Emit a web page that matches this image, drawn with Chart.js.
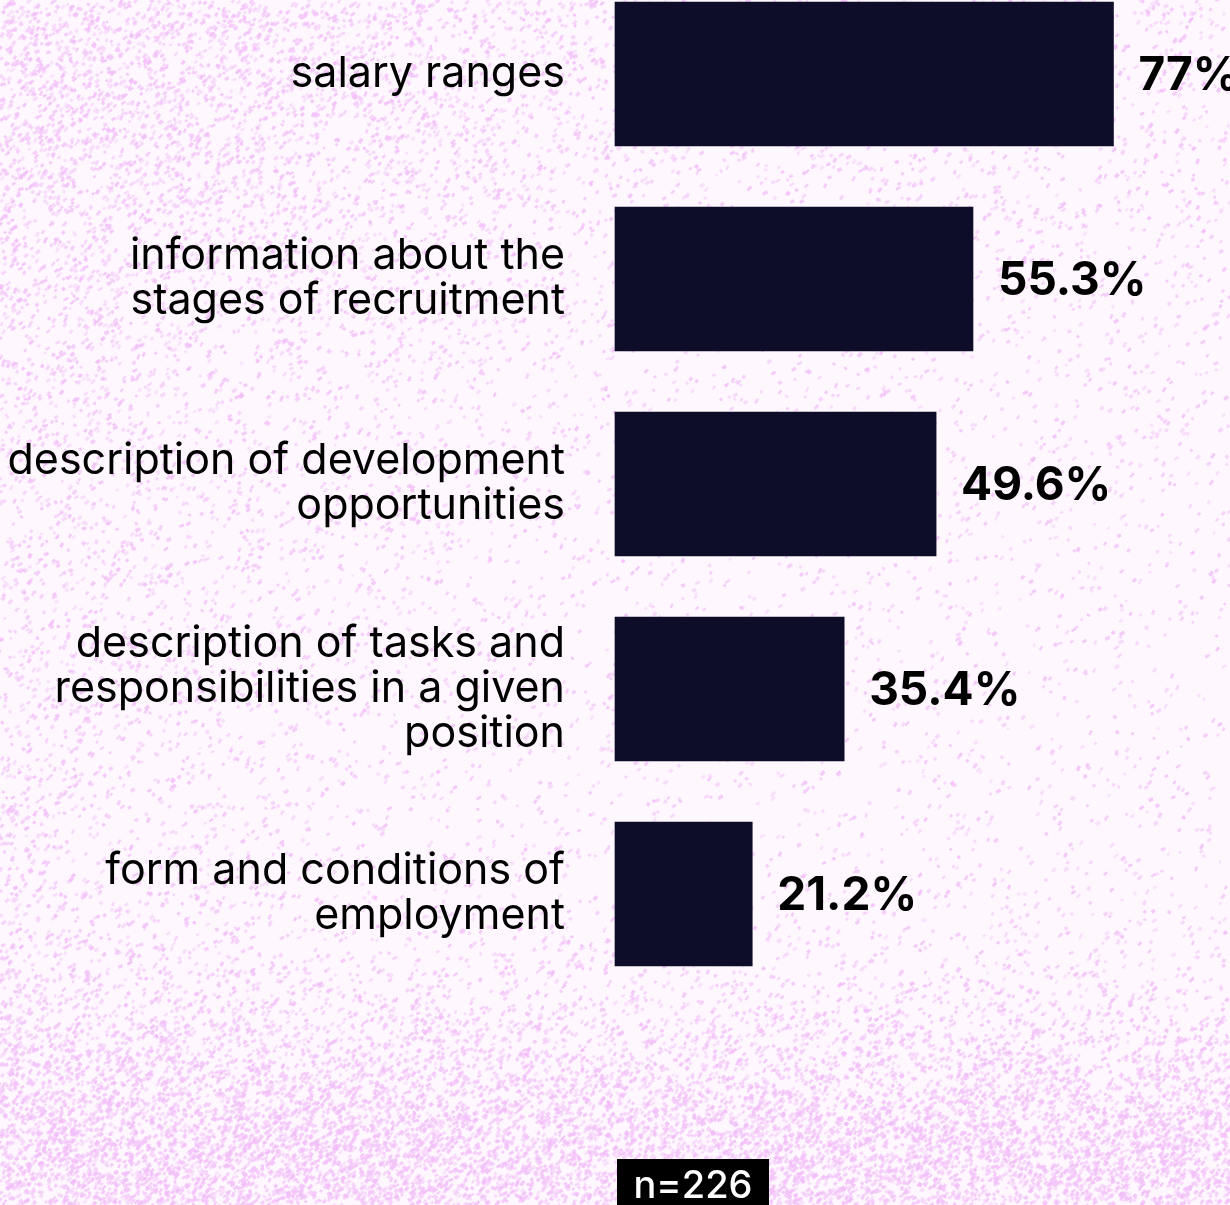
<!DOCTYPE html>
<html>
<head>
<meta charset="utf-8">
<script src="https://cdn.jsdelivr.net/npm/chart.js@4.4.1/dist/chart.umd.min.js"></script>
<style>
  html, body { margin: 0; padding: 0; background: #fdf5fd; }
  #wrap { position: relative; width: 1230px; height: 1205px; overflow: hidden; }
  canvas { display: block; }
</style>
</head>
<body>
<div id="wrap"><canvas id="chart" width="1230" height="1205"></canvas></div>
<script>
// Survey answers: what job offers should contain
const categories = [
  ['salary ranges'],
  ['information about the', 'stages of recruitment'],
  ['description of development', 'opportunities'],
  ['description of tasks and', 'responsibilities in a given', 'position'],
  ['form and conditions of', 'employment']
];
const shares = [77, 55.3, 49.6, 35.4, 21.2];
const valueLabels = ['77%', '55.3%', '49.6%', '35.4%', '21.2%'];
const sampleNote = 'n=226';

const FONT = "Inter, 'Open Sans', sans-serif";

// Speckled pink paper texture behind the chart (deterministic generator)
function seeded(seed) {
  let s = seed >>> 0;
  return function () {
    s = (s * 1664525 + 1013904223) >>> 0;
    return s / 4294967296;
  };
}
function speckDensity(x, y) {
  const bottom = Math.min(1, Math.max(0, (y - 880) / 260));
  const topLeft = 0.35 * Math.exp(-((x / 480) ** 2 + (y / 300) ** 2));
  const top = 0.15 * Math.exp(-y / 200);
  const left = 0.2 * Math.exp(-x / 220) * Math.min(1, y / 500);
  return Math.min(1, 0.06 + 0.9 * bottom * bottom + topLeft + top + left);
}
let paperCache = null;
function buildPaper(w, h) {
  const raw = document.createElement('canvas');
  raw.width = w; raw.height = h;
  const g = raw.getContext('2d');
  g.fillStyle = '#fef7fe';
  g.fillRect(0, 0, w, h);
  const rnd = seeded(20240611);
  for (let i = 0; i < 90000; i++) {
    const x = rnd() * w;
    const y = rnd() * h;
    if (rnd() > speckDensity(x, y)) continue;
    const a = 0.35 + rnd() * 0.5;
    const ang = -0.8 + (rnd() - 0.5) * 0.8;
    const cs = Math.cos(ang), sn = Math.sin(ang);
    g.setTransform(cs, sn, -sn, cs, x, y);
    g.fillStyle = 'rgba(242, 190, 249,' + a.toFixed(2) + ')';
    g.fillRect(-2, -1.4, 2.5 + rnd() * 3, 2.2 + rnd() * 1.4);
  }
  g.setTransform(1, 0, 0, 1, 0, 0);
  // soften the specks in one pass
  const soft = document.createElement('canvas');
  soft.width = w; soft.height = h;
  const s = soft.getContext('2d');
  s.fillStyle = '#fef7fe';
  s.fillRect(0, 0, w, h);
  s.filter = 'blur(0.7px)';
  s.drawImage(raw, 0, 0);
  return soft;
}
const paperTexture = {
  id: 'paperTexture',
  beforeDraw(chart) {
    if (!paperCache) paperCache = buildPaper(chart.width, chart.height);
    chart.ctx.drawImage(paperCache, 0, 0);
  }
};

// Percent labels to the right of each bar, and the sample-size tag
const barValues = {
  id: 'barValues',
  afterDatasetsDraw(chart) {
    const ctx = chart.ctx;
    const meta = chart.getDatasetMeta(0);
    ctx.save();
    ctx.font = "bold 46px " + FONT;
    ctx.fillStyle = '#000000';
    ctx.textAlign = 'left';
    ctx.textBaseline = 'middle';
    meta.data.forEach((bar, i) => {
      ctx.fillText(valueLabels[i], bar.x + 25, bar.y + 2);
    });
    ctx.restore();
  },
  afterDraw(chart) {
    const ctx = chart.ctx;
    ctx.save();
    ctx.fillStyle = '#000000';
    ctx.fillRect(617, 1159, 152, 50);
    ctx.fillStyle = '#ffffff';
    ctx.font = "500 38px " + FONT;
    ctx.textAlign = 'center';
    ctx.textBaseline = 'alphabetic';
    ctx.fillText(sampleNote, 693, 1198);
    ctx.restore();
  }
};

new Chart(document.getElementById('chart'), {
  type: 'bar',
  data: {
    labels: categories,
    datasets: [{
      data: shares,
      backgroundColor: '#0d0c29',
      borderWidth: 0,
      barThickness: 144,
      clip: false
    }]
  },
  options: {
    indexAxis: 'y',
    responsive: false,
    animation: false,
    layout: { padding: { top: 74, bottom: 311, left: 0, right: 0 } },
    plugins: {
      legend: { display: false },
      tooltip: { enabled: false }
    },
    scales: {
      x: {
        display: false,
        min: 0,
        max: 95
      },
      y: {
        offset: false,
        grid: { display: false, drawTicks: false },
        border: { display: false },
        afterFit(scale) {
          scale.width = 615;
          // the labels sit beside the bars, so no extra vertical room is needed
          scale.paddingTop = 0;
          scale.paddingBottom = 0;
        },
        ticks: {
          padding: 50,
          color: '#000000',
          font: { family: FONT, size: 43, lineHeight: 1.05 },
          autoSkip: false
        }
      }
    }
  },
  plugins: [paperTexture, barValues]
});
</script>
</body>
</html>
